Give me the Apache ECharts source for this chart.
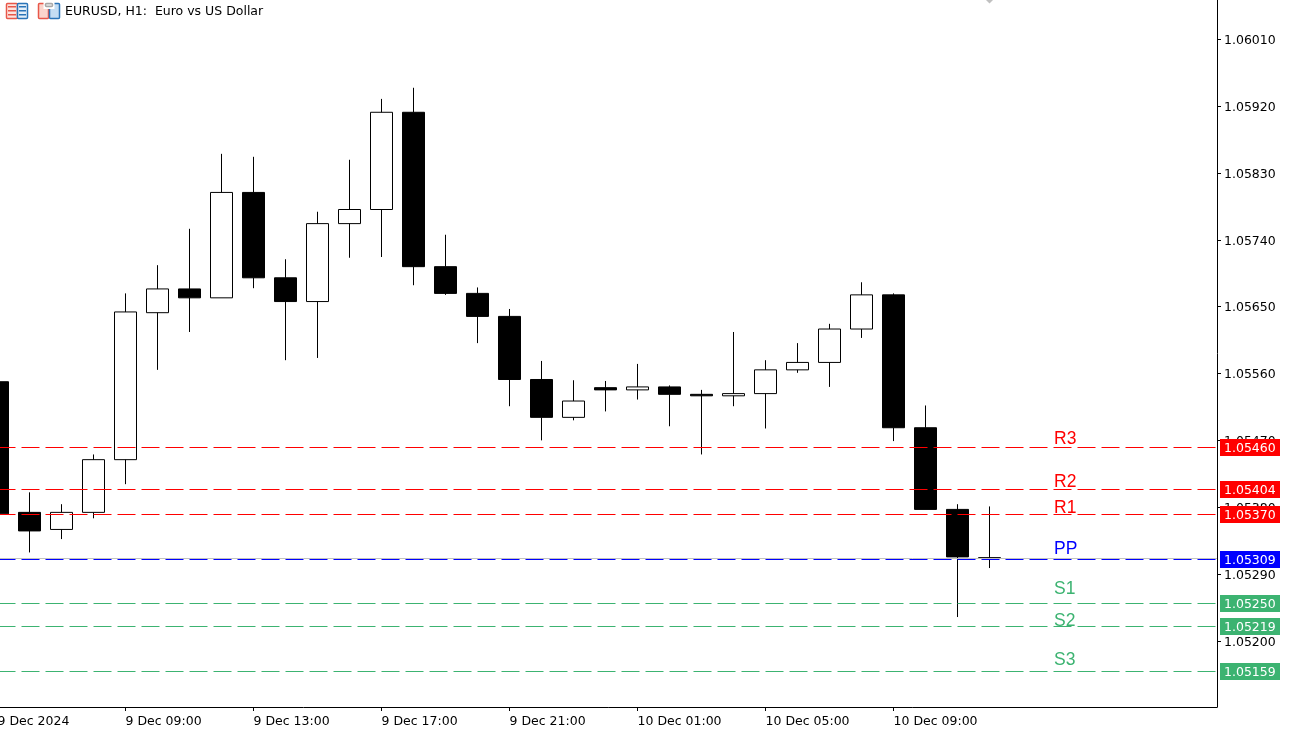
<!DOCTYPE html>
<html>
<head>
<meta charset="utf-8">
<title>EURUSD, H1</title>
<script src="https://cdn.jsdelivr.net/npm/echarts@6/dist/echarts.min.js"></script>
<style>
  html, body { margin: 0; padding: 0; background: #fff; overflow: hidden; }
  #chart { width: 1293px; height: 733px; }
</style>
</head>
<body>
<div id="chart"></div>
<script>
// Hourly EURUSD bars, oldest first
const opens  = [1.05549,1.05373,1.05350,1.05373,1.05444,1.05642,1.05674,1.05662,1.05804,1.05689,1.05657,1.05762,1.05781,1.05912,1.05704,1.05668,1.05637,1.05552,1.05501,1.05541,1.05538,1.05542,1.05532,1.05530,1.05533,1.05565,1.05575,1.05620,1.05666,1.05487,1.05377,1.05312];
const closes = [1.05371,1.05348,1.05373,1.05444,1.05643,1.05674,1.05662,1.05804,1.05689,1.05657,1.05762,1.05781,1.05912,1.05704,1.05668,1.05637,1.05552,1.05501,1.05523,1.05538,1.05542,1.05532,1.05530,1.05533,1.05565,1.05575,1.05620,1.05666,1.05487,1.05377,1.05313,1.05311];
const lows   = [1.05362,1.05319,1.05337,1.05365,1.05411,1.05565,1.05616,1.05662,1.05675,1.05578,1.05581,1.05716,1.05717,1.05679,1.05666,1.05601,1.05516,1.05470,1.05497,1.05509,1.05525,1.05489,1.05451,1.05516,1.05486,1.05561,1.05542,1.05608,1.05469,1.05377,1.05232,1.05298];
const highs  = [1.05565,1.05400,1.05384,1.05451,1.05668,1.05706,1.05755,1.05856,1.05852,1.05714,1.05778,1.05848,1.05930,1.05945,1.05747,1.05676,1.05647,1.05577,1.05551,1.05550,1.05573,1.05544,1.05538,1.05616,1.05578,1.05601,1.05627,1.05683,1.05668,1.05517,1.05384,1.05381];

// Floor pivot levels and where their names sit
const levelNames  = ['R3','R2','R1','PP','S1','S2','S3'];
const levelValues = [1.05460,1.05404,1.05370,1.05309,1.05250,1.05219,1.05159];
const levelColors = ['#ff0000','#ff0000','#ff0000','#0000ff','#3cb371','#3cb371','#3cb371'];
const levelNamePrices = [1.05471,1.05414,1.05379,1.05324,1.05269,1.05227,1.05174];
const levelNameBar = 33;

// Axis ticks
const priceTicks = [1.0601,1.0592,1.0583,1.0574,1.0565,1.0556,1.0547,1.0538,1.0529,1.0520];
const timeTickBars = [0,4,8,12,16,20,24,28];
const timeTickLabels = ['9 Dec 2024','9 Dec 09:00','9 Dec 13:00','9 Dec 17:00','9 Dec 21:00','10 Dec 01:00','10 Dec 05:00','10 Dec 09:00'];

const titleText = 'EURUSD, H1:  Euro vs US Dollar';
const lastBid = closes[closes.length - 1];

const axisFont = 'DejaVu Sans';
const barMax = 38.109375;
const priceMin = 1.051108;
const priceMax = 1.0606324;

const candleData = opens.map((o, i) => [i, o, closes[i], lows[i], highs[i]]);

// Two small toolbar glyphs beside the symbol caption
function toolbarIcons() {
  const r = (x, y, w, h, fill, stroke) => ({
    type: 'rect', silent: true,
    shape: { x, y, width: w, height: h, r: stroke ? 1 : 0 },
    style: { fill, stroke: stroke || null, lineWidth: stroke ? 1.5 : 0 }
  });
  const red = '#e8574a', blue = '#2a74b8';
  return [
    r(6.5, 3.5, 11, 15, '#fde4df', red),
    r(17.5, 3.5, 10, 15, '#e4eff9', blue),
    r(8, 6, 8, 1.5, red), r(8, 10, 8, 1.5, red), r(8, 14, 8, 1.5, red),
    r(19, 6, 7, 1.5, blue), r(19, 10, 7, 1.5, blue), r(19, 14, 7, 1.5, blue),
    r(38.5, 3.5, 10, 15, '#fbd5cd', red),
    r(49.5, 3.5, 10, 15, '#c4ddf3', blue),
    r(43.5, 2, 11, 7, '#ffffff'),
    r(45.5, 3.5, 7, 3, '#e6e6e6', '#a8a8a8')
  ];
}

// Horizontal price level snapped to a pixel row, with an optional price tag past the axis
function renderLevel(params, api) {
  const start = api.coord([0, api.value(1)]);
  const end = api.coord([barMax, api.value(1)]);
  const y = Math.floor(start[1]) + 0.5;
  const dash = api.value(2) ? [18, 6] : null;
  const color = api.value(3) >= 0 ? levelColors[api.value(3)] : '#c0c0c0';
  const children = [{
    type: 'line',
    shape: { x1: start[0], y1: y, x2: end[0], y2: y },
    style: { stroke: color, lineWidth: 1, lineDash: dash, fill: null }
  }];
  if (dash) {
    children.push({
      type: 'rect',
      shape: { x: end[0] + 3, y: y - 8.5, width: 60, height: 17 },
      style: { fill: color }
    }, {
      type: 'text',
      style: {
        x: end[0] + 7, y: y + 1.5,
        text: api.value(1).toFixed(5),
        fill: '#ffffff',
        font: '12.5px "' + axisFont + '"',
        align: 'left', verticalAlign: 'middle'
      }
    });
  }
  return { type: 'group', children };
}

const chart = echarts.init(document.getElementById('chart'), null, { renderer: 'canvas' });
chart.setOption({
  animation: false,
  backgroundColor: '#ffffff',
  title: {
    text: titleText, left: 65, top: 5, padding: 0,
    textStyle: { fontFamily: axisFont, fontSize: 12.5, fontWeight: 'normal', color: '#000000' }
  },
  grid: { left: -2.5, width: 1219.5, top: 0, height: 707, containLabel: false, outerBoundsMode: 'none' },
  xAxis: {
    type: 'value', min: 0, max: barMax, interval: 4,
    splitLine: { show: false },
    axisLine: { show: true, onZero: false, lineStyle: { color: '#000000', width: 1 } },
    axisTick: { show: true, length: 4, customValues: timeTickBars, lineStyle: { color: '#000000' } },
    axisLabel: {
      show: true, customValues: timeTickBars, margin: 8, align: 'left',
      hideOverlap: false, showMinLabel: true,
      fontFamily: axisFont, fontSize: 12.5, color: '#000000',
      formatter: v => timeTickLabels[timeTickBars.indexOf(v)] || ''
    }
  },
  yAxis: {
    type: 'value', position: 'right', min: priceMin, max: priceMax, scale: true,
    splitLine: { show: false },
    axisLine: { show: true, onZero: false, lineStyle: { color: '#000000', width: 1 } },
    axisTick: { show: true, length: 4, customValues: priceTicks, lineStyle: { color: '#000000' } },
    axisLabel: {
      show: true, customValues: priceTicks, margin: 7, hideOverlap: false,
      fontFamily: axisFont, fontSize: 12.5, color: '#000000',
      formatter: v => '{p|' + v.toFixed(5) + '}',
      rich: {
        p: { fontFamily: axisFont, fontSize: 12.5, color: '#000000', padding: [3, 0, 0, 0] }
      }
    }
  },
  graphic: toolbarIcons(),
  series: [
    {
      type: 'candlestick',
      data: candleData,
      barWidth: 22,
      silent: true,
      itemStyle: {
        color: '#ffffff', color0: '#000000',
        borderColor: '#000000', borderColor0: '#000000', borderWidth: 1
      }
    },
    {
      type: 'custom',
      name: 'Levels',
      coordinateSystem: 'cartesian2d',
      renderItem: renderLevel,
      silent: true, z: 3, clip: false,
      encode: { x: 0, y: 1 },
      data: [[barMax, lastBid, 0, -1]].concat(levelValues.map((v, i) => [barMax, v, 1, i]))
    },
    {
      type: 'scatter',
      name: 'Level names',
      silent: true, z: 4,
      symbolSize: 1,
      itemStyle: { color: 'rgba(0,0,0,0)', opacity: 1 },
      data: levelNames.map((n, i) => ({
        value: [levelNameBar, levelNamePrices[i]],
        label: {
          show: true, position: 'right', distance: 0, opacity: 1,
          formatter: n, color: levelColors[i],
          fontFamily: 'Liberation Sans', fontSize: 17.5
        }
      }))
    },
    {
      type: 'scatter',
      name: 'Price marker',
      silent: true, z: 4,
      symbol: 'diamond', symbolSize: 7,
      itemStyle: { color: '#c0c0c0', opacity: 1 },
      data: [[opens.length - 1, priceMax]]
    }
  ]
});
</script>
</body>
</html>
